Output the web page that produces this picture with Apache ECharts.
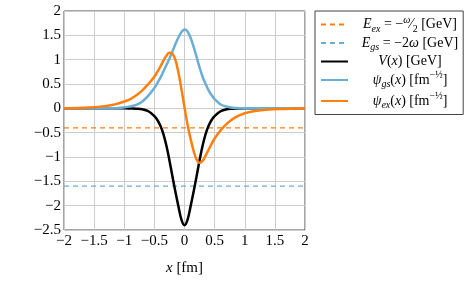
<!DOCTYPE html>
<html><head><meta charset="utf-8">
<script src="https://cdn.jsdelivr.net/npm/echarts@6/dist/echarts.min.js"></script>
<style>html,body{margin:0;padding:0;background:#fff}#c{width:464px;height:283px}</style>
</head><body><div id="c"></div>
<script>
// sample positions x [fm]
const xs = [-2, -1.8, -1.6, -1.4, -1.2, -1.1, -1.0, -0.9, -0.8, -0.7, -0.6, -0.5, -0.45, -0.4, -0.35, -0.3, -0.25, -0.2, -0.15, -0.1, -0.05,
  0, 0.05, 0.1, 0.15, 0.2, 0.25, 0.3, 0.35, 0.4, 0.45, 0.5, 0.6, 0.7, 0.8, 0.9, 1.0, 1.1, 1.2, 1.4, 1.6, 1.8, 2.0];
// V(x) [GeV]
const potential = [0, 0, 0, 0, 0, 0, 0, -0.003, -0.008, -0.02, -0.06, -0.16, -0.24, -0.36, -0.53, -0.77, -1.07, -1.40, -1.72, -2.02, -2.29,
  -2.40, -2.29, -2.02, -1.72, -1.40, -1.07, -0.77, -0.53, -0.36, -0.24, -0.16, -0.06, -0.02, -0.008, -0.003, 0, 0, 0, 0, 0, 0, 0];
// psi_gs(x)
const psiGs = [0, 0, 0, 0, 0, 0.005, 0.02, 0.04, 0.07, 0.14, 0.26, 0.42, 0.52, 0.63, 0.76, 0.89, 1.02, 1.17, 1.32, 1.46, 1.57,
  1.62, 1.58, 1.45, 1.27, 1.06, 0.84, 0.65, 0.50, 0.37, 0.27, 0.19, 0.08, 0.035, 0.012, 0.004, 0, 0, 0, 0, 0, 0, 0];
// psi_ex(x)
const psiEx = [0, 0.005, 0.015, 0.035, 0.07, 0.10, 0.14, 0.19, 0.27, 0.37, 0.50, 0.65, 0.75, 0.86, 0.98, 1.08, 1.14, 1.12, 0.99, 0.73, 0.39,
  0.02, -0.33, -0.62, -0.87, -1.05, -1.12, -1.08, -0.97, -0.85, -0.73, -0.62, -0.45, -0.32, -0.22, -0.15, -0.10, -0.07, -0.05, -0.025, -0.012, -0.005, 0];
// energy levels [GeV]
const energyEx = -0.4;
const energyGs = -1.6;
const xRange = [-2, 2];
const yRange = [-2.5, 2];

const pairs = v => xs.map((x, i) => [x, v[i]]);
const level = e => xRange.map(x => [x, e]);

const ORANGE = '#ff7f0e', BLUE = '#6aaed6';
const SERIF = '"Liberation Serif", "DejaVu Serif", serif';
const fmt = v => String(v).replace('-', '\u2212');

const legendText = {
  Eex: '{i|E}{sub|ex}{n| = \u2212}{fs|\u03c9}{n|\u2044}{fb|2}{n| [GeV]}',
  Egs: '{i|E}{sub|gs}{n| = \u22122}{i|\u03c9}{n| [GeV]}',
  V: '{i|V}{n|(}{i|x}{n|) [GeV]}',
  psiGs: '{i|\u03c8}{sub|gs}{n|(}{i|x}{n|) [fm}{sup|\u2212\u00bd}{n|]}',
  psiEx: '{i|\u03c8}{sub|ex}{n|(}{i|x}{n|) [fm}{sup|\u2212\u00bd}{n|]}'
};
const base = {fontFamily: SERIF, color: '#000', align: 'center'};
const rich = {
  n: Object.assign({}, base, {fontSize: 14, lineHeight: 19}),
  i: Object.assign({}, base, {fontSize: 14, lineHeight: 19, fontStyle: 'italic'}),
  sub: Object.assign({}, base, {fontSize: 10, lineHeight: 13, fontStyle: 'italic', verticalAlign: 'bottom'}),
  sup: Object.assign({}, base, {fontSize: 10, lineHeight: 14, verticalAlign: 'top'}),
  fs: Object.assign({}, base, {fontSize: 10, lineHeight: 14, fontStyle: 'italic', verticalAlign: 'top'}),
  fb: Object.assign({}, base, {fontSize: 10, lineHeight: 14, verticalAlign: 'bottom'})
};

const chart = echarts.init(document.getElementById('c'), null, {renderer: 'canvas'});
chart.setOption({
  animation: false,
  backgroundColor: '#fff',
  grid: {left: 64, right: 159, top: 11, bottom: 53, show: true, borderColor: '#4a4a4a', borderWidth: 1, backgroundColor: 'transparent'},
  xAxis: {
    type: 'value', min: xRange[0], max: xRange[1], interval: 0.5,
    axisLine: {show: false}, axisTick: {show: false},
    splitLine: {show: true, lineStyle: {color: '#cccccc', width: 1}},
    axisLabel: {formatter: fmt, color: '#000', fontFamily: SERIF, fontSize: 15, margin: 4},
    name: '{i|x}{n| [fm]}', nameLocation: 'middle', nameGap: 31,
    nameTextStyle: {rich: {i: {fontFamily: SERIF, fontSize: 15, fontStyle: 'italic', color: '#000'}, n: {fontFamily: SERIF, fontSize: 15, color: '#000'}}}
  },
  yAxis: {
    type: 'value', min: yRange[0], max: yRange[1], interval: 0.5,
    axisLine: {show: false}, axisTick: {show: false},
    splitLine: {show: true, lineStyle: {color: '#cccccc', width: 1}},
    axisLabel: {formatter: fmt, color: '#000', fontFamily: SERIF, fontSize: 15, margin: 3}
  },
  legend: {
    orient: 'vertical', left: 315, top: 11,
    itemWidth: 27, itemHeight: 12, itemGap: 2,
    padding: [4, 5, 4, 5],
    borderColor: '#444', borderWidth: 1, borderRadius: 0, backgroundColor: '#fff',
    data: ['Eex', 'Egs', 'V', 'psiGs', 'psiEx'],
    itemStyle: {opacity: 0},
    formatter: name => legendText[name],
    textStyle: {width: 114, rich: rich}
  },
  series: [
    {name: 'Eex', type: 'line', data: level(energyEx), showSymbol: false, symbol: 'none', lineStyle: {color: ORANGE, width: 1.3, type: [5, 4]}, itemStyle: {color: ORANGE}, z: 2},
    {name: 'Egs', type: 'line', data: level(energyGs), showSymbol: false, symbol: 'none', lineStyle: {color: BLUE, width: 1.3, type: [5, 4]}, itemStyle: {color: BLUE}, z: 2},
    {name: 'V', type: 'line', data: pairs(potential), smooth: 0.4, showSymbol: false, symbol: 'none', lineStyle: {color: '#000', width: 2.5}, itemStyle: {color: '#000'}, z: 3},
    {name: 'psiGs', type: 'line', data: pairs(psiGs), smooth: 0.4, showSymbol: false, symbol: 'none', lineStyle: {color: BLUE, width: 2.5}, itemStyle: {color: BLUE}, z: 4},
    {name: 'psiEx', type: 'line', data: pairs(psiEx), smooth: 0.4, showSymbol: false, symbol: 'none', lineStyle: {color: ORANGE, width: 2.5}, itemStyle: {color: ORANGE}, z: 5}
  ]
});
</script></body></html>
